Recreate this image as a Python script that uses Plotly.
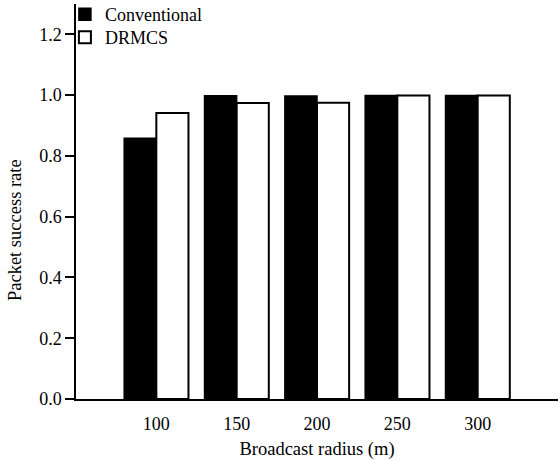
import plotly.graph_objects as go

radii = ["100", "150", "200", "250", "300"]
conventional = [0.858, 0.998, 0.997, 0.999, 0.999]
drmcs = [0.941, 0.974, 0.975, 0.999, 0.999]

FONT = "Liberation Serif"

fig = go.Figure()
fig.add_trace(go.Bar(x=radii, y=conventional, name="Conventional", legend="legend",
                     marker=dict(color="black", line=dict(color="black", width=1.5))))
fig.add_trace(go.Bar(x=radii, y=drmcs, name="DRMCS", legend="legend2",
                     marker=dict(color="white", line=dict(color="black", width=2))))

leg = dict(xanchor="left", yanchor="top", bgcolor="rgba(0,0,0,0)",
           font=dict(family=FONT, size=18), itemwidth=30)

fig.update_layout(
    width=560, height=460,
    margin=dict(l=76, r=2, t=4, b=61, autoexpand=False),
    paper_bgcolor="white", plot_bgcolor="white",
    barmode="group", bargap=0.2, bargroupgap=0,
    font=dict(family=FONT, size=18, color="black"),
    showlegend=True,
    legend=dict(x=-0.023, y=1.020, **leg),
    legend2=dict(x=-0.023, y=0.962, **leg),
    xaxis=dict(
        type="category", range=[-1, 5],
        showline=True, linecolor="black", linewidth=1.5,
        ticks="", showgrid=False, zeroline=False,
        ticklabelstandoff=8,
        title=dict(text="Broadcast radius (m)", standoff=9, font=dict(family=FONT, size=18.5)),
        tickfont=dict(family=FONT, size=18),
    ),
    yaxis=dict(
        range=[0, 1.3], tickvals=[0, 0.2, 0.4, 0.6, 0.8, 1.0, 1.2],
        ticktext=["0.0", "0.2", "0.4", "0.6", "0.8", "1.0", "1.2"],
        showline=True, linecolor="black", linewidth=1.5,
        ticks="outside", ticklen=9, tickwidth=1.5, tickcolor="black",
        showgrid=False, zeroline=False,
        tickfont=dict(family=FONT, size=18),
    ),
    annotations=[dict(text="Packet success rate", textangle=-90,
                      xref="paper", yref="paper", x=-0.125, y=0.427,
                      xanchor="center", yanchor="middle", showarrow=False,
                      font=dict(family=FONT, size=18.5))],
)

fig.write_html("out.html")
